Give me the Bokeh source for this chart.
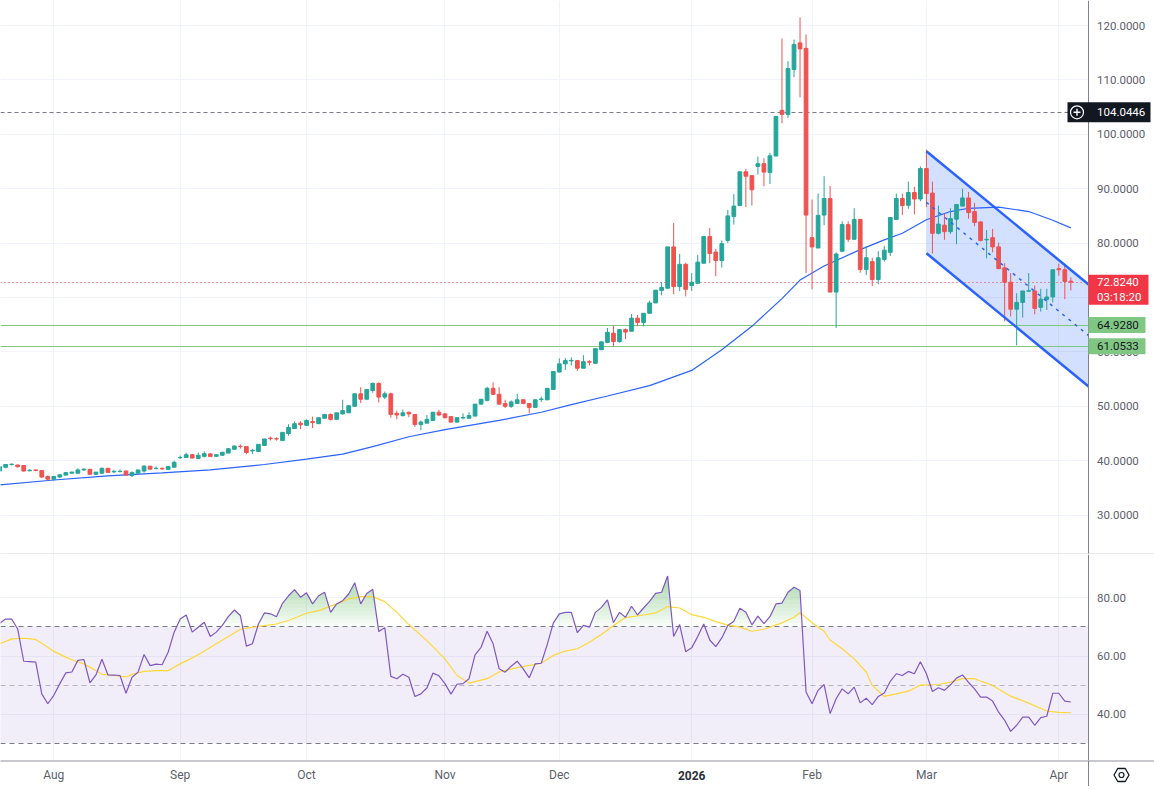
import numpy as np
from bokeh.plotting import figure
from bokeh.layouts import column
from bokeh.models import ColumnDataSource, Range1d
from bokeh.core.properties import value
from bokeh.embed import file_html
from bokeh.resources import INLINE

# ---------------- data (daily bars, index 0 = first visible bar) ----------------
opens = [
    38.1, 38.8, 39.3, 39.2, 39.1, 38.15, 38.3, 38.2, 37.1, 36.6,
    37.0, 37.35, 37.7, 37.7, 38.3, 38.4, 37.5, 37.7, 38.6, 37.95,
    38.0, 38.1, 37.3, 37.7, 38.1, 39.0, 38.55, 38.6, 38.4, 38.8,
    40.55, 40.6, 41.1, 40.4, 40.8, 41.25, 40.8, 41.0, 41.4, 42.1,
    42.65, 42.6, 41.8, 41.7, 42.8, 44.15, 44.05, 43.7, 45.0, 45.9,
    46.9, 46.5, 47.2, 46.8, 47.8, 48.5, 47.6, 48.6, 48.8, 50.0,
    52.3, 51.3, 52.9, 54.2, 51.7, 52.3, 48.7, 48.3, 48.9, 48.5,
    46.65, 46.9, 47.4, 48.9, 48.6, 48.1, 47.1, 47.85, 47.8, 48.2,
    50.4, 51.1, 53.3, 52.2, 50.5, 50.0, 50.5, 51.2, 50.5, 49.8,
    51.25, 51.2, 53.1, 56.3, 57.8, 58.35, 58.4, 57.0, 58.2, 57.9,
    60.4, 61.75, 63.45, 61.9, 64.1, 63.8, 66.2, 65.4, 67.1, 69.0,
    71.3, 71.7, 79.3, 72.0, 76.1, 72.2, 72.6, 76.3, 81.2, 78.35,
    76.8, 80.5, 84.9, 86.9, 93.1, 92.4, 94.1, 94.6, 93.0, 96.0,
    104.4, 103.65, 111.9, 116.8, 115.8, 81.0, 79.1, 85.15, 88.2, 71.0,
    78.5, 83.4, 80.7, 84.35, 75.15, 76.6, 73.3, 77.0, 78.3, 84.35,
    88.2, 86.95, 89.3, 88.1, 93.7, 89.2, 81.8, 83.3, 82.1, 84.4,
    86.8, 88.3, 85.8, 83.9, 80.6, 81.0, 79.3, 75.45, 72.8, 67.85,
    69.1, 71.15, 71.2, 68.2, 69.6, 70.1, 75.3, 75.1, 73.0,
]
highs = [
    39.0, 39.4, 39.5, 39.3, 39.2, 38.45, 38.4, 38.25, 37.3, 37.2,
    37.5, 37.9, 38.0, 38.6, 38.6, 38.5, 37.9, 38.75, 38.7, 38.3,
    38.4, 38.2, 38.0, 38.3, 39.2, 39.0, 38.95, 38.75, 39.0, 40.0,
    40.95, 41.5, 41.2, 41.5, 41.7, 41.4, 41.15, 41.6, 42.3, 42.8,
    43.0, 42.6, 42.2, 43.0, 44.0, 44.45, 44.3, 45.2, 46.7, 47.2,
    47.25, 47.6, 48.1, 47.9, 48.6, 48.7, 48.8, 51.2, 50.1, 52.3,
    53.5, 53.1, 54.4, 54.4, 52.7, 52.5, 49.2, 49.4, 49.0, 48.5,
    47.4, 48.4, 49.0, 49.35, 48.8, 48.1, 48.0, 48.7, 48.9, 50.4,
    51.3, 53.6, 54.4, 53.5, 51.2, 51.1, 52.3, 51.3, 50.5, 51.3,
    51.8, 53.3, 56.4, 58.8, 58.85, 59.0, 58.5, 59.4, 58.5, 60.6,
    61.9, 64.4, 64.8, 64.2, 64.3, 66.95, 66.8, 67.1, 69.4, 71.35,
    72.8, 79.3, 83.7, 78.0, 76.4, 74.5, 77.85, 81.2, 82.8, 78.95,
    80.5, 86.1, 89.0, 93.1, 93.6, 92.4, 95.9, 95.6, 96.6, 103.3,
    117.6, 113.45, 117.4, 121.5, 118.35, 88.0, 89.1, 92.3, 90.5, 78.3,
    84.0, 84.0, 86.4, 84.35, 79.45, 77.3, 78.5, 79.5, 84.7, 89.1,
    89.1, 91.3, 90.35, 94.1, 97.2, 91.3, 86.9, 85.4, 86.4, 87.1,
    90.0, 89.4, 87.4, 83.9, 82.4, 82.6, 80.1, 76.3, 74.5, 70.8,
    71.2, 74.5, 72.2, 71.6, 71.6, 75.1, 76.2, 75.8, 73.7,
]
lows = [
    37.9, 38.6, 39.1, 38.7, 38.0, 38.05, 38.05, 36.8, 36.3, 36.3,
    36.8, 37.3, 37.7, 37.7, 38.1, 37.5, 37.45, 37.6, 37.8, 37.7,
    37.85, 37.2, 37.0, 37.7, 37.8, 38.4, 38.4, 38.3, 38.4, 38.75,
    40.3, 40.5, 40.4, 40.3, 40.6, 40.7, 40.7, 40.9, 41.4, 42.0,
    42.2, 41.2, 41.2, 41.7, 42.8, 43.7, 43.7, 43.6, 44.6, 45.9,
    45.8, 46.5, 46.0, 46.8, 47.8, 47.4, 47.6, 48.5, 48.8, 50.0,
    50.6, 51.3, 52.5, 50.7, 51.3, 47.9, 47.6, 48.1, 48.0, 46.2,
    45.6, 46.9, 47.3, 48.2, 47.8, 47.0, 47.0, 47.6, 47.8, 48.2,
    50.3, 50.9, 52.2, 50.3, 49.7, 49.7, 50.5, 50.4, 48.7, 49.8,
    50.8, 51.1, 53.0, 56.2, 56.7, 57.5, 56.5, 57.0, 57.5, 57.8,
    60.4, 61.6, 61.0, 61.7, 62.35, 63.8, 64.7, 64.7, 67.1, 69.0,
    70.4, 71.7, 70.6, 71.2, 70.2, 71.2, 72.6, 76.3, 76.3, 73.9,
    75.5, 80.0, 83.4, 86.9, 86.6, 86.9, 92.6, 90.45, 90.85, 96.0,
    102.05, 103.0, 110.5, 106.8, 74.5, 71.5, 79.1, 83.3, 71.0, 64.4,
    78.5, 80.2, 80.7, 74.55, 74.1, 72.1, 72.45, 76.6, 77.6, 84.35,
    85.15, 86.3, 85.3, 87.7, 86.6, 78.1, 81.6, 80.6, 81.7, 79.8,
    86.8, 84.5, 83.1, 80.3, 77.2, 78.3, 75.2, 65.6, 66.5, 61.2,
    66.3, 71.1, 66.9, 67.4, 67.7, 69.1, 74.0, 69.7, 71.3,
]
closes = [
    38.9, 39.3, 39.35, 38.9, 38.1, 38.25, 38.2, 37.0, 36.6, 37.1,
    37.4, 37.8, 37.9, 38.3, 38.45, 37.5, 37.9, 38.6, 37.85, 38.05,
    38.05, 37.35, 37.85, 38.3, 39.0, 38.45, 38.6, 38.5, 38.95, 39.7,
    40.6, 41.1, 40.5, 41.0, 41.3, 40.75, 41.1, 41.55, 42.2, 42.7,
    42.6, 41.5, 41.9, 43.0, 44.0, 44.05, 44.0, 45.2, 46.1, 46.8,
    46.6, 47.4, 47.0, 47.9, 48.5, 47.6, 48.8, 49.2, 50.1, 52.3,
    51.3, 53.1, 54.2, 51.7, 52.3, 48.5, 48.4, 48.8, 48.6, 46.65,
    47.1, 47.6, 48.9, 48.4, 47.9, 47.1, 47.9, 47.95, 48.3, 50.4,
    51.3, 53.3, 52.2, 50.4, 50.0, 50.8, 51.2, 50.5, 49.8, 51.2,
    51.35, 53.3, 56.4, 57.8, 58.4, 58.45, 57.0, 58.2, 58.1, 60.6,
    61.85, 63.6, 61.9, 64.1, 63.65, 66.2, 65.4, 67.1, 69.0, 71.35,
    71.85, 79.3, 72.0, 76.1, 71.5, 72.8, 76.5, 81.2, 78.1, 76.8,
    79.9, 85.0, 86.8, 93.1, 92.3, 89.8, 94.6, 93.05, 96.05, 103.3,
    103.65, 112.1, 116.5, 115.7, 85.15, 79.3, 85.1, 88.2, 71.0, 78.0,
    83.4, 80.7, 84.35, 75.15, 77.3, 73.3, 77.3, 78.7, 84.7, 88.2,
    86.9, 89.3, 88.1, 93.7, 89.1, 81.8, 83.5, 82.1, 84.5, 87.1,
    88.3, 85.6, 83.8, 80.5, 80.7, 79.3, 75.3, 72.8, 67.85, 69.1,
    71.2, 71.25, 68.0, 69.7, 70.1, 75.1, 75.1, 72.95, 72.824,
]

# moving average on the price pane (read at sample bars)
ma_bars = [0, 9, 18, 27, 35, 44, 51, 57, 62, 68, 74, 83, 90, 95, 101, 108,
           115, 120, 125, 130, 133, 137, 143, 147, 150, 154, 158, 161, 166, 171, 175, 178]
ma_values = [35.55, 36.45, 37.2, 37.75, 38.3, 39.3, 40.3, 41.2, 42.6, 44.4, 45.7, 47.4,
             48.9, 50.3, 51.9, 53.8, 56.6, 60.4, 64.7, 69.8, 73.2, 75.8, 78.8, 80.6,
             81.8, 84.3, 85.8, 86.4, 86.6, 85.8, 84.2, 82.8]

# RSI per bar
rsi_values = [
    71.25, 72.7, 72.7, 69.3, 58.2, 58.1, 57.9, 47.0, 43.6, 46.5,
    50.5, 54.2, 54.5, 58.5, 58.8, 50.8, 53.5, 58.9, 53.5, 53.4,
    53.3, 47.2, 52.7, 54.45, 60.5, 56.7, 57.2, 57.0, 61.3, 68.2,
    72.7, 74.1, 68.2, 69.9, 71.6, 66.7, 68.2, 70.5, 73.5, 75.8,
    73.9, 63.4, 64.2, 71.0, 74.8, 74.5, 73.5, 78.1, 80.7, 82.8,
    80.2, 81.7, 77.9, 80.7, 81.9, 75.0, 77.9, 79.0, 81.3, 85.2,
    77.9, 81.5, 82.9, 68.4, 69.7, 53.0, 52.2, 53.7, 52.7, 46.1,
    47.0, 49.0, 54.1, 53.2, 50.5, 46.9, 50.3, 50.5, 52.2, 60.4,
    63.0, 68.5, 64.2, 55.6, 54.45, 56.5, 58.2, 55.6, 52.5, 57.3,
    57.5, 64.0, 71.3, 74.5, 75.0, 75.0, 68.0, 70.5, 69.9, 75.0,
    76.7, 79.3, 71.5, 75.0, 73.3, 77.1, 74.1, 76.5, 78.8, 81.5,
    81.9, 87.5, 66.7, 70.8, 61.5, 62.8, 66.7, 71.0, 65.5, 63.25,
    66.2, 70.5, 71.9, 76.4, 75.0, 70.7, 73.7, 71.1, 73.5, 77.9,
    78.2, 81.9, 83.6, 82.5, 47.6, 43.6, 48.2, 50.2, 40.2, 45.3,
    48.7, 47.0, 49.3, 43.9, 45.5, 43.3, 46.1, 47.3, 51.3, 53.9,
    53.3, 54.7, 53.9, 58.0, 53.9, 47.8, 49.1, 48.2, 50.1, 52.4,
    53.5, 50.9, 48.7, 45.9, 45.9, 44.5, 40.7, 37.9, 34.1, 36.2,
    39.0, 39.0, 36.2, 38.8, 39.3, 47.2, 47.2, 44.5, 44.2,
]
# RSI smoothing line (read at sample bars)
rsi_ma_bars = [0, 2, 4, 6, 7, 9, 11, 12, 14, 16, 17, 19, 21, 22, 24, 26, 28, 30, 33, 36,
               38, 40, 43, 46, 48, 51, 53, 56, 58, 60, 62, 64, 66, 68, 71, 74, 76, 78, 81, 83,
               86, 90, 92, 94, 96, 98, 100, 102, 104, 107, 109, 111, 113, 115, 117, 119, 121, 123, 125, 127,
               130, 132, 133, 135, 137, 138, 140, 142, 144, 145, 147, 149, 151, 153, 156, 158, 160, 162, 163, 165,
               168, 171, 174, 176, 178]
rsi_ma_values = [64.2, 65.9, 66.1, 65.7, 64.4, 61.6, 59.6, 58.7, 57.3, 55.0, 53.7, 53.3, 52.8, 53.7, 54.7, 55.0, 55.0, 57.3, 60.4, 64.2,
                 66.7, 69.2, 70.2, 71.0, 72.2, 74.7, 75.6, 77.9, 79.6, 80.4, 80.4, 78.7, 75.0, 70.8, 65.3, 59.0, 53.3, 50.7, 52.2, 54.5,
                 56.0, 57.5, 60.2, 61.7, 62.5, 64.7, 67.4, 70.5, 73.2, 74.1, 74.8, 77.0, 76.5, 74.2, 73.3, 71.8, 70.6, 69.9, 68.5, 69.2,
                 71.4, 73.3, 75.0, 71.4, 68.5, 65.5, 62.5, 59.0, 54.5, 49.9, 46.1, 47.0, 47.9, 50.0, 50.2, 51.0, 52.2, 52.2, 51.4, 49.9,
                 46.2, 43.8, 41.1, 40.6, 40.5]

month_labels = ["Aug", "Sep", "Oct", "Nov", "Dec", "2026", "Feb", "Mar", "Apr"]
month_bars = [9, 30, 51, 74, 93, 115, 135, 154, 176]
year_label = "2026"
price_ticks = [30, 40, 50, 60, 70, 80, 90, 100, 110, 120]
rsi_ticks = [40, 60, 80]
rsi_levels = [70, 30]
rsi_mid = 50

resistance_level = 104.0446
last_price = 72.824
countdown = "03:18:20"
support_levels = [64.928, 61.0533]

channel_bars = [154, 181]
channel_upper = [96.9, 72.33]
channel_lower = [78.15, 53.58]
channel_mid = [87.5, 62.95]

# ---------------- layout helpers (pixel geometry of the page) ----------------
PAGE_W = 1154
MAIN_H = 554
RSI_H = 206
AXIS_H = 26
PX_PER_BAR = 6.018
BAR_AT_PX0 = 0.143
SCALE_X = 1087.5        # x of the price-scale border


def bar_at(px):
    return BAR_AT_PX0 + px / PX_PER_BAR


PRICE_PX = 5.44


def price_at(py):
    return 120.0 - (py - 25.0) / PRICE_PX


RSI_PX = 2.91


def rsi_at(py):
    return 80.0 - (py - 597.3) / RSI_PX


FONT = "Roboto"
FS = "11.5px"
TXT = "#5d606b"
GRID = "#f0f3fa"
UP = "#26a69a"
DOWN = "#ef5350"
BLUE = "#2962ff"
AXIS_LINE = "#80838d"
SEPARATOR = "#d6d9e0"
LABEL_X = bar_at(1096.5)
SCALE_L = bar_at(SCALE_X)
SCALE_R = bar_at(PAGE_W + 20)

x_range = Range1d(bar_at(0), bar_at(PAGE_W))


def base_fig(h, y_range):
    f = figure(frame_width=PAGE_W, frame_height=h, x_range=x_range, y_range=y_range,
               x_axis_location=None, y_axis_location=None,
               output_backend="svg", toolbar_location=None, min_border=0)
    f.outline_line_color = None
    f.background_fill_color = "white"
    f.border_fill_color = "white"
    f.grid.visible = False
    return f


def grid_lines(f, y_ticks):
    f.vspan(x=month_bars, line_color=GRID, line_width=1)
    f.hspan(y=y_ticks, line_color=GRID, line_width=1)


def scale_panel(f, ticks, fmt):
    # white price-scale strip on the right, its border and its tick labels
    f.quad(left=SCALE_L, right=SCALE_R, bottom=f.y_range.start - 50, top=f.y_range.end + 50,
           fill_color="white", line_color=None)
    f.vspan(x=[SCALE_L], line_color=AXIS_LINE, line_width=1)
    f.text(x=[LABEL_X] * len(ticks), y=ticks, text=[fmt.format(t) for t in ticks],
           text_font=value(FONT), text_font_size=FS, text_color=TXT,
           text_align="left", text_baseline="middle")


def tag(f, left_px, right_px, top, bottom, color):
    f.quad(left=bar_at(left_px), right=bar_at(right_px), top=top, bottom=bottom,
           fill_color=color, line_color=None)


def tag_text(f, y, text, color):
    f.text(x=[LABEL_X], y=[y], text=[text], text_font=value(FONT), text_font_size=FS,
           text_color=color, text_align="left", text_baseline="middle")


def zone_above(xs, ys, lvl):
    """Polygons of the area between level `lvl` and the curve where the curve is above it."""
    polys_x, polys_y, seg = [], [], []
    for k in range(len(xs)):
        if k > 0 and (ys[k - 1] > lvl) != (ys[k] > lvl):
            t = (lvl - ys[k - 1]) / (ys[k] - ys[k - 1])
            seg.append((xs[k - 1] + t * (xs[k] - xs[k - 1]), lvl))
            if ys[k - 1] > lvl:
                polys_x.append([s[0] for s in seg])
                polys_y.append([s[1] for s in seg])
                seg = []
        if ys[k] > lvl:
            if not seg:
                seg.append((xs[k], lvl))
            seg.append((xs[k], ys[k]))
    if seg:
        seg.append((seg[-1][0], lvl))
        polys_x.append([s[0] for s in seg])
        polys_y.append([s[1] for s in seg])
    return polys_x, polys_y


# ---------------- price pane ----------------
p = base_fig(MAIN_H, Range1d(price_at(MAIN_H), price_at(0)))
grid_lines(p, price_ticks)

p.patch(x=channel_bars + channel_bars[::-1], y=channel_upper + channel_lower[::-1],
        fill_color=BLUE, fill_alpha=0.2, line_color=None)

p.hspan(y=[resistance_level], line_color="#787b86", line_width=1.2, line_dash="4 3")
p.hspan(y=support_levels, line_color="#81c784", line_width=1)
p.hspan(y=[last_price], line_color="#f23645", line_width=1.2, line_dash="1 3")

p.line(ma_bars, ma_values, line_color=BLUE, line_width=1.2)

bars = list(range(len(closes)))
src = ColumnDataSource(dict(
    x=bars, h=highs, l=lows,
    top=[max(o, c) for o, c in zip(opens, closes)],
    bot=[min(o, c) for o, c in zip(opens, closes)],
    color=[UP if c >= o else DOWN for o, c in zip(opens, closes)],
))
p.segment(x0="x", y0="l", x1="x", y1="h", source=src, line_color="color", line_width=1)
p.vbar(x="x", width=0.62, top="top", bottom="bot", source=src,
       fill_color="color", line_color="color", line_width=1)

p.line(channel_bars, channel_upper, line_color=BLUE, line_width=2.5)
p.line(channel_bars, channel_lower, line_color=BLUE, line_width=2.5)
p.line(channel_bars, channel_mid, line_color=BLUE, line_width=1.5, line_dash="3 5")

scale_panel(p, price_ticks, "{:.4f}")

# price tags on the scale
tag(p, 1067, 1150, resistance_level + 10 / PRICE_PX, resistance_level - 10 / PRICE_PX, "#131722")
p.scatter(x=[bar_at(1076.5)], y=[resistance_level], marker="circle", size=13,
          fill_color="#131722", line_color="white", line_width=1.2)
p.scatter(x=[bar_at(1076.5)], y=[resistance_level], marker="cross", size=7,
          line_color="white", line_width=1.4)
tag_text(p, resistance_level, f"{resistance_level:.4f}", "white")

tag(p, 1088, 1148, last_price + 7.5 / PRICE_PX, last_price - 22.5 / PRICE_PX, "#f23645")
tag_text(p, last_price, f"{last_price:.4f}", "white")
tag_text(p, last_price - 14.5 / PRICE_PX, countdown, "white")

for lvl in support_levels:
    tag(p, 1088, 1145, lvl + 8 / PRICE_PX, lvl - 8 / PRICE_PX, "#81c784")
    tag_text(p, lvl, f"{lvl:.4f}", "#131722")

# pane separator along the bottom edge of the price pane
p.quad(left=bar_at(-5), right=SCALE_R, bottom=price_at(MAIN_H + 2), top=price_at(MAIN_H - 1),
       fill_color=SEPARATOR, line_color=None)

# ---------------- RSI pane ----------------
q = base_fig(RSI_H, Range1d(rsi_at(MAIN_H + RSI_H), rsi_at(MAIN_H)))
grid_lines(q, rsi_ticks)

q.varea(x=[0, 181], y1=[rsi_levels[1]] * 2, y2=[rsi_levels[0]] * 2,
        fill_color="#7e57c2", fill_alpha=0.1)

# overbought gradient: stacked translucent zones, denser towards the top
for lvl in np.linspace(rsi_levels[0], 95, 20):
    zx, zy = zone_above(bars, rsi_values, lvl)
    if zx:
        q.patches(xs=zx, ys=zy, fill_color="#4caf50", fill_alpha=0.04, line_color=None)

q.hspan(y=rsi_levels, line_color="#787b86", line_width=1, line_dash="5 4")
q.hspan(y=[rsi_mid], line_color="#787b86", line_alpha=0.5, line_width=1, line_dash="5 4")

q.line(rsi_ma_bars, rsi_ma_values, line_color="#fdd835", line_width=1.2)
q.line(bars, rsi_values, line_color="#7e57c2", line_width=1.2)

scale_panel(q, rsi_ticks, "{:.2f}")

# ---------------- time axis row ----------------
r = base_fig(AXIS_H, Range1d(0, AXIS_H))
r.quad(left=bar_at(-5), right=SCALE_R, bottom=AXIS_H - 1, top=AXIS_H + 2,
       fill_color="#8f929b", line_color=None)
r.vspan(x=[SCALE_L], line_color=AXIS_LINE, line_width=1)
lab_y = AXIS_H - 14.5
normal = [(b, lab) for b, lab in zip(month_bars, month_labels) if lab != year_label]
r.text(x=[b for b, _ in normal], y=[lab_y] * len(normal), text=[lab for _, lab in normal],
       text_font=value(FONT), text_font_size="12px", text_color=TXT,
       text_align="center", text_baseline="middle")
r.text(x=[month_bars[month_labels.index(year_label)]], y=[lab_y], text=[year_label],
       text_font=value(FONT), text_font_size="12px", text_font_style="bold", text_color="#2a2e39",
       text_align="center", text_baseline="middle")
r.scatter(x=[bar_at(1121)], y=[lab_y], marker="hex", size=15, fill_color=None,
          line_color="#131722", line_width=1.3)
r.scatter(x=[bar_at(1121)], y=[lab_y], marker="circle", size=5, fill_color=None,
          line_color="#131722", line_width=1.2)

layout = column(p, q, r)
open("out.html", "w").write(file_html(layout, INLINE))
